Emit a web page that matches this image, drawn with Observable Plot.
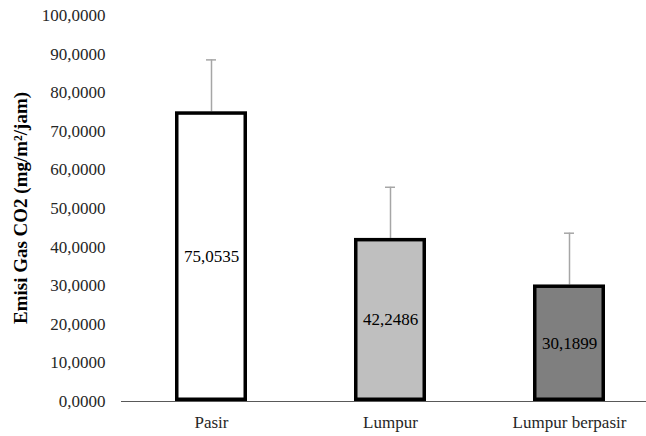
<!DOCTYPE html>
<html>
<head>
<meta charset="utf-8">
<script src="https://cdn.jsdelivr.net/npm/d3@7"></script>
<script src="https://cdn.jsdelivr.net/npm/@observablehq/plot@0.6"></script>
<style>
  html, body { margin: 0; padding: 0; background: #fff; }
  #chart { width: 646px; height: 436px; }
  #chart svg, #chart svg text { font-family: "Liberation Serif", "Times New Roman", serif !important; }
</style>
</head>
<body>
<div id="chart"></div>
<script>
const categories = ["Pasir", "Lumpur", "Lumpur berpasir"];
const values = [75.0535, 42.2486, 30.1899];
const errorTops = [88.5, 55.5, 43.6];
const fills = ["#ffffff", "#bfbfbf", "#7f7f7f"];
const yTicks = [0, 10, 20, 30, 40, 50, 60, 70, 80, 90, 100];
const yLabel = "Emisi Gas CO2 (mg/m²/jam)";

const data = categories.map((c, i) => ({cat: c, v: values[i], top: errorTops[i], fill: fills[i]}));
const fmt = v => v.toFixed(4).replace(".", ",");

const chart = Plot.plot({
  width: 646,
  height: 436,
  marginTop: 15,
  marginBottom: 35,
  marginLeft: 121,
  marginRight: 0,
  style: {fontSize: "17px", color: "#262626", background: "#fff"},
  x: {domain: categories, range: [121, 658], paddingInner: 0.6, paddingOuter: 0.3, label: null, tickSize: 0, tickPadding: 14},
  y: {domain: [0, 100], ticks: yTicks, tickFormat: fmt, label: null, tickSize: 0, tickPadding: 16},
  marks: [
    Plot.ruleY([0], {stroke: "#595959", strokeWidth: 1}),
    Plot.ruleX([0], {x: () => 121, stroke: "#595959"}),
    Plot.ruleX(data, {x: "cat", y1: "v", y2: "top", stroke: "#a6a6a6", strokeWidth: 1.5}),
    Plot.tickY(data, {x: "cat", y: "top", stroke: "#a6a6a6", strokeWidth: 1.5, inset: 31}),
    Plot.barY(data, {x: "cat", y: "v", fill: "fill", stroke: "#000", strokeWidth: 3.5, inset: 1.75}),
    Plot.text(data, {x: "cat", y: d => d.v / 2, text: d => fmt(d.v), fill: "#000", fontSize: 17})
  ]
});

// y-axis title
const svg = d3.select(chart);
svg.append("text")
  .attr("transform", "translate(23,208) rotate(-90)")
  .attr("text-anchor", "middle")
  .attr("dominant-baseline", "middle")
  .attr("font-weight", "bold")
  .attr("font-size", 19)
  .attr("fill", "#000")
  .text(yLabel);

document.getElementById("chart").appendChild(chart);
</script>
</body>
</html>
